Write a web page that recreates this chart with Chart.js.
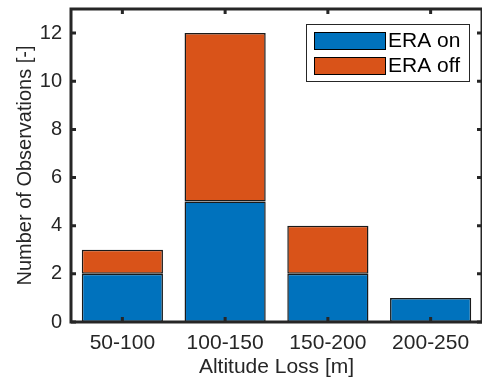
<!DOCTYPE html>
<html>
<head>
<meta charset="utf-8">
<script src="https://cdn.jsdelivr.net/npm/chart.js@4/dist/chart.umd.min.js"></script>
<style>
  html, body { margin: 0; padding: 0; background: #fff; }
  #wrap { width: 482px; height: 378px; }
</style>
</head>
<body>
<div id="wrap"><canvas id="barChart"></canvas></div>
<script>
// --- Data ---
const categories = ["50-100", "100-150", "150-200", "200-250"];
const eraOn = [2, 5, 2, 1];
const eraOff = [1, 7, 2, 0];
const seriesNames = ["ERA on", "ERA off"];

const axisColor = "#262626";
const font = "'Liberation Sans', Arial, Helvetica, sans-serif";

// box around the axes + ticks pointing inward (matlab style)
const boxPlugin = {
  id: "box",
  afterDatasetsDraw(chart) {
    const { ctx, chartArea: a, scales } = chart;
    ctx.save();
    ctx.strokeStyle = axisColor;
    ctx.lineWidth = 3;
    ctx.strokeRect(a.left, a.top, a.right - a.left, a.bottom - a.top);
    const len = 5;
    scales.y.ticks.forEach(t => {
      const y = scales.y.getPixelForValue(t.value);
      ctx.beginPath();
      ctx.moveTo(a.left, y); ctx.lineTo(a.left + len, y);
      ctx.moveTo(a.right, y); ctx.lineTo(a.right - len, y);
      ctx.stroke();
    });
    categories.forEach((c, i) => {
      const x = scales.x.getPixelForValue(i);
      ctx.beginPath();
      ctx.moveTo(x, a.bottom); ctx.lineTo(x, a.bottom - len);
      ctx.moveTo(x, a.top); ctx.lineTo(x, a.top + len);
      ctx.stroke();
    });
    ctx.restore();
  }
};

// legend box in the top right corner
const legendPlugin = {
  id: "boxLegend",
  afterDraw(chart) {
    const { ctx, chartArea: a } = chart;
    const w = 163, h = 57;
    const x0 = a.right - 13 - w, y0 = a.top + 15;
    ctx.save();
    ctx.fillStyle = "#fff";
    ctx.fillRect(x0, y0, w, h);
    ctx.strokeStyle = "#262626";
    ctx.lineWidth = 1;
    ctx.strokeRect(x0 + 0.5, y0 + 0.5, w, h);
    ctx.font = "21px " + font;
    ctx.textBaseline = "middle";
    chart.data.datasets.forEach((ds, i) => {
      const sy = y0 + 8 + i * 25;
      ctx.fillStyle = ds.backgroundColor;
      ctx.fillRect(x0 + 8, sy, 71, 17);
      ctx.strokeStyle = "#000";
      ctx.strokeRect(x0 + 8.5, sy + 0.5, 71, 17);
      ctx.fillStyle = "#000";
      ctx.fillText(ds.label, x0 + 82, sy + 9);
    });
    ctx.restore();
  }
};

const data = {
  labels: categories,
  datasets: [
    { label: seriesNames[0], data: eraOn, backgroundColor: "#0072BD" },
    { label: seriesNames[1], data: eraOff, backgroundColor: "#D95319" }
  ].map(ds => Object.assign(ds, {
    borderColor: "#1a1a1a",
    borderWidth: 1.5,
    borderSkipped: false,
    categoryPercentage: 0.79,
    barPercentage: 1
  }))
};

const config = {
  type: "bar",
  data,
  options: {
    responsive: false,
    animation: false,
    layout: { padding: { top: 9, right: -3, left: 0, bottom: 0 } },
    plugins: { legend: { display: false }, tooltip: { enabled: false } },
    scales: {
      x: {
        stacked: true,
        grid: { display: false, drawTicks: false },
        border: { display: false },
        ticks: { color: axisColor, font: { family: font, size: 21 }, padding: 9 },
        title: { display: true, text: "Altitude Loss [m]", color: axisColor, font: { family: font, size: 21, lineHeight: 1 }, padding: { top: 0, bottom: 0 } },
        afterFit(s) { s.height = 56; s.paddingLeft = 0; s.paddingRight = 0; }
      },
      y: {
        stacked: true,
        min: 0,
        max: 13,
        grid: { display: false, drawTicks: false },
        border: { display: false },
        ticks: { stepSize: 2, color: axisColor, font: { family: font, size: 20 }, padding: 9 },
        afterBuildTicks(s) { s.ticks = s.ticks.filter(t => t.value % 2 === 0); },
        title: { display: true, text: "Number of Observations [-]", color: axisColor, font: { family: font, size: 20 }, padding: { top: 13, bottom: 4 } },
        afterFit(s) { s.width = 71; s.paddingTop = 0; s.paddingBottom = 0; }
      }
    }
  },
  plugins: [boxPlugin, legendPlugin]
};

const canvas = document.getElementById("barChart");
canvas.width = 482;
canvas.height = 378;
const currentChart = new Chart(canvas, config);
</script>
</body>
</html>
